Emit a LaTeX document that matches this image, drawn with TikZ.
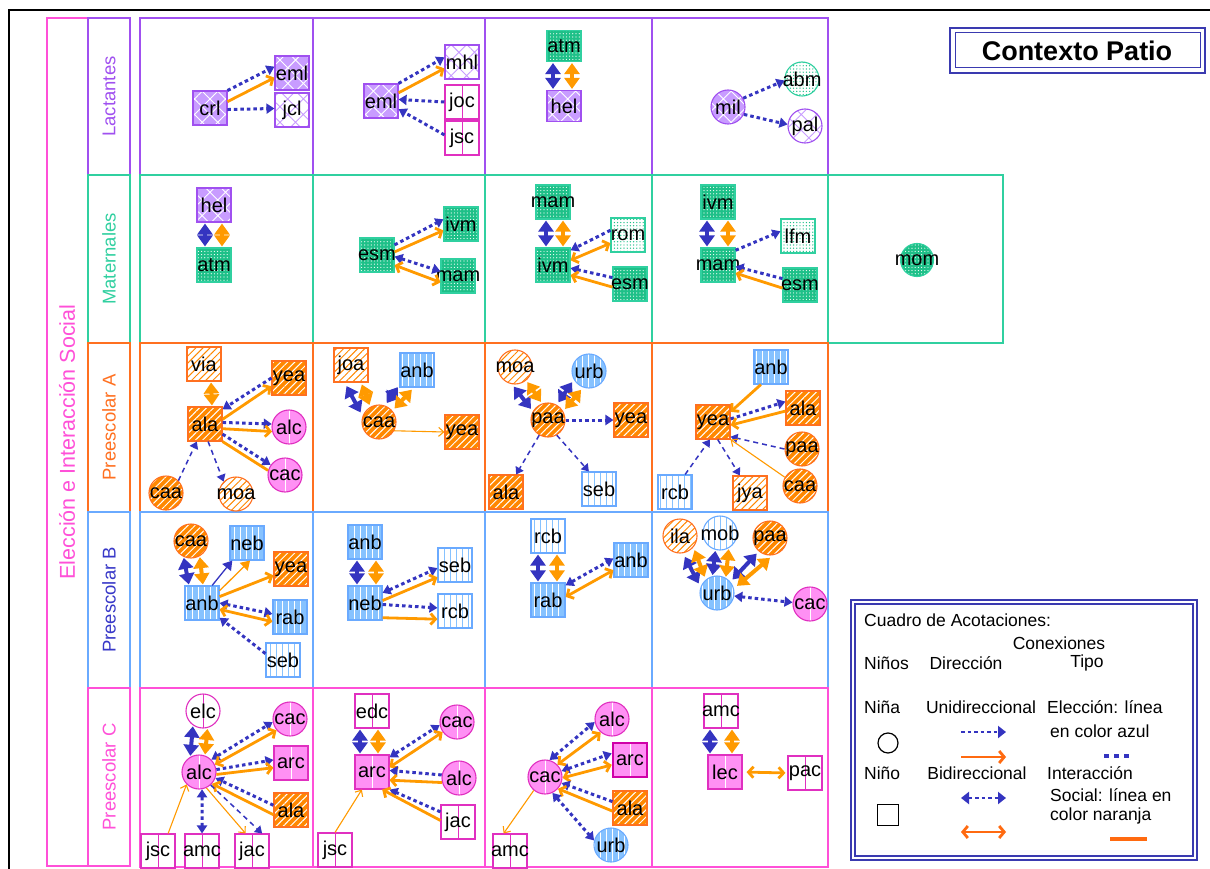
\documentclass[tikz,border=0pt]{standalone}
\usepackage{fontspec}
\setmainfont{Liberation Sans}
\usetikzlibrary{arrows.meta,patterns.meta}
\definecolor{purpB}{HTML}{A050F0}
\definecolor{purpF}{HTML}{C89CFF}
\definecolor{grnB}{HTML}{30D0A0}
\definecolor{grnF}{HTML}{1EC088}
\definecolor{orgB}{HTML}{FF7020}
\definecolor{orgF}{HTML}{FF8800}
\definecolor{bluB}{HTML}{6AAAFF}
\definecolor{bluF}{HTML}{86C2FF}
\definecolor{pnkB}{HTML}{E030C0}
\definecolor{pnkF}{HTML}{FF90F4}
\definecolor{pnkD}{HTML}{D000A8}
\definecolor{pnkR}{HTML}{FF50D8}
\definecolor{arrB}{HTML}{3434C0}
\definecolor{arrO}{HTML}{FF9A00}
\definecolor{legO}{HTML}{FF6A10}
\definecolor{navy}{HTML}{3A3AB0}
\definecolor{lblB}{HTML}{3838C8}
\newcommand\mk[1]{\makebox[0pt]{#1}}
\newcommand\nf{\fontsize{20}{20}\selectfont}
\newcommand\rf{\fontsize{18.5}{18.5}\selectfont}
\newcommand\lgf{\fontsize{17.5}{17.5}\selectfont}
\tikzset{
 nd/.style={minimum width=34pt,minimum height=34pt,inner sep=0pt,line width=1.1pt,font=\nf,text=black},
 sq/.style={nd,rectangle},
 ci/.style={nd,circle,minimum size=34pt},
 pL/.style={draw=purpB,preaction={fill=purpF},pattern={Hatch[angle=45,distance=11pt,line width=0.9pt]},pattern color=white},
 wL/.style={draw=purpB,preaction={fill=white},pattern={Hatch[angle=45,distance=11pt,line width=0.9pt]},pattern color=purpF},
 gM/.style={draw=grnB,preaction={fill=grnF},pattern={Dots[distance=3.2pt,radius=0.6pt]},pattern color=white},
 wM/.style={draw=grnB,preaction={fill=white},pattern={Dots[distance=3.2pt,radius=0.7pt]},pattern color=grnF},
 oA/.style={draw=orgB,preaction={fill=orgF},pattern={Lines[angle=45,distance=5pt,line width=1pt]},pattern color=white},
 wA/.style={draw=orgB,preaction={fill=white},pattern={Lines[angle=45,distance=5pt,line width=1pt]},pattern color=orgF},
 bB/.style={draw=bluB,preaction={fill=bluF},pattern={Lines[angle=90,distance=6pt,line width=1pt]},pattern color=white},
 wB/.style={draw=bluB,preaction={fill=white},pattern={Lines[angle=90,distance=6pt,line width=1pt]},pattern color=bluF},
 pC/.style={draw=pnkB,fill=pnkF,path picture={\draw[white,line width=1pt] (path picture bounding box.north)--(path picture bounding box.south);}},
 wC/.style={draw=pnkB,fill=white,path picture={\draw[pnkB,line width=1pt] (path picture bounding box.north)--(path picture bounding box.south);}},
 eC/.style={draw=arrB,line width=3pt,dash pattern=on 3.5pt off 3pt,-{Triangle[length=8pt,width=10pt]}},
 eCC/.style={eC,{Triangle[length=8pt,width=10pt]}-{Triangle[length=8pt,width=10pt]}},
 eI/.style={draw=arrO,line width=2.8pt,-{Straight Barb[length=5pt,width=11pt]}},
 eII/.style={eI,{Straight Barb[length=5pt,width=11pt]}-{Straight Barb[length=5pt,width=11pt]}},
 eL/.style={draw=arrO,line width=2.8pt},
 eTB/.style={draw=arrB,line width=1.5pt,dash pattern=on 5pt off 4pt,-{Triangle[length=7pt,width=9pt]}},
 eTO/.style={draw=arrO,line width=1.1pt,-{Straight Barb[length=5pt,width=9pt]}},
 eTBs/.style={draw=arrB,line width=1.3pt,-{Triangle[length=9pt,width=11pt]}},
 eTOs/.style={draw=arrO,line width=1.3pt,-{Triangle[length=9pt,width=11pt]}},
 mkB/.style={draw=arrB,line width=4pt,{Triangle[length=11pt,width=15pt]}-{Triangle[length=11pt,width=15pt]},shorten <=1pt,shorten >=1pt},
 mkO/.style={mkB,draw=arrO},
 lg/.style={font=\lgf,inner sep=0pt},
 rowlab/.style={rotate=90,font=\rf,inner sep=0pt},
}
\begin{document}
\begin{tikzpicture}[x=1pt,y=-1pt]
\useasboundingbox (0,0) rectangle (1210,869);
\fill[white] (0,0) rectangle (1210,869);
% outer frame
\draw[black,line width=1.2pt] (9,869) -- (9,10) -- (1210,10);
% left labels
\draw[pnkR,line width=1.5pt] (47,18) rectangle (130,866);
\node[rotate=90,font=\fontsize{21.5}{21.5}\selectfont,text=pnkR,inner sep=0pt] (mainlab) at (67,442) {Elección e Interacción Social};
\draw[purpB,line width=1.5pt] (88,18) rectangle (130,175);
\node[rowlab,text=purpB] (labL) at (109,96.5) {Lactantes};
\draw[grnB,line width=1.5pt] (88,175) rectangle (130,343);
\node[rowlab,text=grnB] (labM) at (109,259) {Maternales};
\draw[orgB,line width=1.5pt] (88,343) rectangle (130,512);
\node[rowlab,text=orgB] (labA) at (109,427.5) {Preescolar A};
\draw[bluB,line width=1.5pt] (88,512) rectangle (130,688);
\node[rowlab,text=lblB] (labB) at (109,600) {Preescolar B};
\draw[pnkR,line width=1.5pt] (88,688) rectangle (130,866);
\node[rowlab,text=pnkR] (labC) at (109,777) {Preescolar C};
% grid cells
\foreach \a/\b in {140/313,313/485,485/652,652/828} \draw[purpB,line width=1.5pt] (\a,18) rectangle (\b,175);
\foreach \a/\b in {140/313,313/485,485/652,652/828,828/1003} \draw[grnB,line width=1.5pt] (\a,175) rectangle (\b,343);
\foreach \a/\b in {140/313,313/485,485/652,652/828} \draw[orgB,line width=1.5pt] (\a,343) rectangle (\b,512);
\foreach \a/\b in {140/313,313/485,485/652,652/828} \draw[bluB,line width=1.5pt] (\a,512) rectangle (\b,688);
\foreach \a/\b in {140/313,313/485,485/652,652/828} \draw[pnkR,line width=1.5pt] (\a,688) rectangle (\b,867);
% title
\draw[navy,line width=2.5pt] (950,28) rectangle (1205,73);
\draw[navy,line width=1pt] (955,33) rectangle (1200,68);
\node[font=\bfseries\fontsize{27}{27}\selectfont,inner sep=0pt] (title) at (1077,51) {Contexto Patio};

% ===== Lactantes =====
\node[sq,pL] (L1crl) at (210,108) {\mk{crl}};
\node[sq,pL] (L1eml) at (292,73) {\mk{eml}};
\node[sq,wL] (L1jcl) at (292,110) {\mk{jcl}};
\draw[eC] (L1crl.north east) -- (L1eml.160);
\draw[eI] (L1crl.20) -- (L1eml.195);
\draw[eC] (L1crl.-5) -- (L1jcl.175);

\node[sq,pL] (L2eml) at (381,101) {\mk{eml}};
\node[sq,wL] (L2mhl) at (462,62) {\mk{mhl}};
\node[sq,wC] (L2joc) at (462,102) {\mk{joc}};
\node[sq,wC] (L2jsc) at (462,138) {\mk{jsc}};
\draw[eC] (L2eml.north east) -- (L2mhl.165);
\draw[eI] (L2eml.25) -- (L2mhl.200);
\draw[eC] (L2joc.west) -- (L2eml.5);
\draw[eC] (L2jsc.170) -- (L2eml.-25);

\node[sq,gM,minimum height=31pt] (L3atm) at (564,46) {\mk{atm}};
\node[sq,pL,minimum height=31pt] (L3hel) at (564,106) {\mk{hel}};
\draw[mkB] ([xshift=-11pt]L3atm.south) -- ([xshift=-11pt]L3hel.north);
\draw[mkO] ([xshift=8pt]L3atm.south) -- ([xshift=8pt]L3hel.north);

\node[ci,pL] (L4mil) at (728,107) {\mk{mil}};
\node[ci,wM] (L4abm) at (802,79) {\mk{abm}};
\node[ci,wL] (L4pal) at (805,126) {\mk{pal}};
\draw[eC] (L4mil.30) -- (L4abm.185);
\draw[eC] (L4mil.-25) -- (L4pal.175);

% ===== Maternales =====
\node[sq,pL] (M1hel) at (214,205) {\mk{hel}};
\node[sq,gM] (M1atm) at (214,265) {\mk{atm}};
\draw[mkB] ([xshift=-9pt]M1hel.south) -- ([xshift=-9pt]M1atm.north);
\draw[mkO] ([xshift=8pt]M1hel.south) -- ([xshift=8pt]M1atm.north);

\node[sq,gM] (M2esm) at (377,255) {\mk{esm}};
\node[sq,gM] (M2ivm) at (461,224) {\mk{ivm}};
\node[sq,gM] (M2mam) at (458,276) {\mk{mam}};
\draw[eC] (M2esm.30) -- (M2ivm.165);
\draw[eI] (M2esm.10) -- (M2ivm.200);
\draw[eCC] (M2esm.-5) -- (M2mam.165);
\draw[eII] (M2esm.-30) -- (M2mam.200);

\node[sq,gM] (M3mam) at (553,202) {\mk{mam}};
\node[sq,gM] (M3ivm) at (553,265) {\mk{ivm}};
\node[sq,wM] (M3rom) at (628,235) {\mk{rom}};
\node[sq,gM] (M3esm) at (630,284) {\mk{esm}};
\draw[mkB] ([xshift=-7pt]M3mam.south) -- ([xshift=-7pt]M3ivm.north);
\draw[mkO] ([xshift=10pt]M3mam.south) -- ([xshift=10pt]M3ivm.north);
\draw[eC] (M3rom.165) -- (M3ivm.40);
\draw[eII] (M3ivm.15) -- (M3rom.205);
\draw[eC] (M3esm.160) -- (M3ivm.-10);
\draw[eI] (M3esm.190) -- (M3ivm.-30);

\node[sq,gM] (M4ivm) at (718,202) {\mk{ivm}};
\node[sq,gM] (M4mam) at (718,265) {\mk{mam}};
\node[sq,wM] (M4lfm) at (798,236) {\mk{lfm}};
\node[sq,gM] (M4esm) at (800,285) {\mk{esm}};
\draw[mkB] ([xshift=-11pt]M4ivm.south) -- ([xshift=-11pt]M4mam.north);
\draw[mkO] ([xshift=10pt]M4ivm.south) -- ([xshift=10pt]M4mam.north);
\draw[eC] (M4mam.40) -- (M4lfm.165);
\draw[eC] (M4esm.160) -- (M4mam.-5);
\draw[eI] (M4esm.190) -- (M4mam.-25);

\node[ci,gM,minimum size=33pt] (M5mom) at (917,260) {\mk{mom}};

% ===== Preescolar A =====
\node[sq,wA] (A1via) at (204,364) {\mk{via}};
\node[sq,oA] (A1yea) at (289,378) {\mk{yea}};
\node[sq,oA] (A1ala) at (205,424) {\mk{ala}};
\node[ci,pC] (A1alc) at (289,427) {\mk{alc}};
\node[ci,pC] (A1cac) at (285,475) {\mk{cac}};
\node[ci,oA] (A1caa) at (166,493) {\mk{caa}};
\node[ci,wA] (A1moa) at (236,494) {\mk{moa}};
\draw[mkO] ([xshift=7pt]A1via.south) -- ([xshift=7pt]A1ala.north);
\draw[eC] (A1yea.west) -- (A1ala.40);
\draw[eI] (A1ala.15) -- (A1yea.205);
\draw[eC] (A1ala.5) -- (A1alc.170);
\draw[eI] (A1ala.-15) -- (A1alc.195);
\draw[eC] (A1ala.-30) -- (A1cac.145);
\draw[eL] (A1ala.-45) -- (A1cac.165);
\draw[eTB] (A1caa.north east) -- (A1ala.-115);
\draw[eTB] (A1ala.-80) -- (A1moa.north west);

\node[sq,wA] (A2joa) at (351,365) {\mk{joa}};
\node[sq,bB] (A2anb) at (417,370) {\mk{anb}};
\node[ci,oA] (A2caa) at (379,422) {\mk{caa}};
\node[sq,oA] (A2yea) at (462,432) {\mk{yea}};
\draw[mkB,shorten <=4pt,shorten >=4pt] (A2joa.-110) -- (A2caa.160);
\draw[mkO,shorten <=2pt,shorten >=2pt] (A2joa.-60) -- (A2caa.120);
\draw[mkB,shorten <=3pt,shorten >=3pt] (A2anb.-140) -- (A2caa.70);
\draw[mkO,shorten <=3pt,shorten >=3pt] (A2anb.-100) -- (A2caa.40);
\draw[eTO] (A2caa.-30) -- (A2yea.west);

\node[ci,wA] (A3moa) at (515,367) {\mk{moa}};
\node[ci,bB] (A3urb) at (589,371) {\mk{urb}};
\node[ci,oA] (A3paa) at (548,420) {\mk{paa}};
\node[sq,oA] (A3yea) at (631,420) {\mk{yea}};
\node[sq,oA] (A3ala) at (506,492) {\mk{ala}};
\node[sq,wB] (A3seb) at (599,489) {\mk{seb}};
\draw[mkB,shorten <=3pt,shorten >=3pt] (A3moa.-100) -- (A3paa.150);
\draw[mkO,shorten <=2pt,shorten >=2pt] (A3moa.-50) -- (A3paa.110);
\draw[mkB,shorten <=3pt,shorten >=3pt] (A3urb.-150) -- (A3paa.60);
\draw[mkO,shorten <=3pt,shorten >=3pt] (A3urb.-110) -- (A3paa.30);
\draw[eC] (A3paa.east) -- (A3yea.west);
\draw[eTB] (A3paa.-120) -- (A3ala.60);
\draw[eTB] (A3paa.-60) -- (A3seb.120);

\node[sq,bB] (A4anb) at (771,367) {\mk{anb}};
\node[sq,oA] (A4yea) at (713,422) {\mk{yea}};
\node[sq,oA] (A4ala) at (803,408) {\mk{ala}};
\node[ci,oA] (A4paa) at (802,449) {\mk{paa}};
\node[ci,oA] (A4caa) at (800,486) {\mk{caa}};
\node[sq,wB] (A4rcb) at (675,492) {\mk{rcb}};
\node[sq,wA] (A4jya) at (750,493) {\mk{jya}};
\draw[eI] (A4anb.-120) -- (A4yea.30);
\draw[eC] (A4yea.10) -- (A4ala.160);
\draw[eI] (A4ala.190) -- (A4yea.-10);
\draw[eTB] (A4paa.west) -- (A4yea.-40);
\draw[eTO] (A4caa.150) -- (A4yea.-45);
\draw[eTB] (A4rcb.60) -- (A4yea.-100);
\draw[eTB] (A4yea.-75) -- (A4jya.120);

% ===== Preescolar B =====
\node[ci,oA] (B1caa) at (191,541) {\mk{caa}};
\node[sq,bB] (B1neb) at (247,543) {\mk{neb}};
\node[sq,oA] (B1yea) at (291,569) {\mk{yea}};
\node[sq,bB] (B1anb) at (202,603) {\mk{anb}};
\node[sq,bB] (B1rab) at (290,617) {\mk{rab}};
\node[sq,wB] (B1seb) at (283,660) {\mk{seb}};
\draw[mkB] (B1caa.-115) -- ([xshift=-13pt]B1anb.north);
\draw[mkO] (B1caa.-60) -- ([xshift=1pt]B1anb.north);
\draw[eTBs] (B1anb.60) -- (B1neb.-130);
\draw[eTOs] (B1anb.35) -- (B1neb.-80);
\draw[eI] (B1anb.20) -- (B1yea.-160);
\draw[eCC] (B1anb.0) -- (B1rab.170);
\draw[eII] (B1anb.-20) -- (B1rab.-165);
\draw[eC] (B1seb.160) -- (B1anb.-40);

\node[sq,bB] (B2anb) at (365,542) {\mk{anb}};
\node[sq,bB] (B2neb) at (365,603) {\mk{neb}};
\node[sq,wB] (B2seb) at (455,565) {\mk{seb}};
\node[sq,wB] (B2rcb) at (455,611) {\mk{rcb}};
\draw[mkB] ([xshift=-8pt]B2anb.south) -- ([xshift=-8pt]B2neb.north);
\draw[mkO] ([xshift=11pt]B2anb.south) -- ([xshift=11pt]B2neb.north);
\draw[eCC] (B2neb.30) -- (B2seb.190);
\draw[eI] (B2neb.8) -- (B2seb.-145);
\draw[eC] (B2neb.-5) -- (B2rcb.170);
\draw[eI] (B2neb.-40) -- (B2rcb.-155);

\node[sq,wB] (B3rcb) at (548,536) {\mk{rcb}};
\node[sq,bB] (B3rab) at (548,600) {\mk{rab}};
\node[sq,bB] (B3anb) at (631,560) {\mk{anb}};
\draw[mkB] ([xshift=-10pt]B3rcb.south) -- ([xshift=-10pt]B3rab.north);
\draw[mkO] ([xshift=9pt]B3rcb.south) -- ([xshift=9pt]B3rab.north);
\draw[eCC] (B3rab.40) -- (B3anb.175);
\draw[eII] (B3rab.10) -- (B3anb.-150);

\node[ci,wA] (B4ila) at (680,536) {\mk{ila}};
\node[ci,wB] (B4mob) at (720,533) {\mk{mob}};
\node[ci,oA] (B4paa) at (770,538) {\mk{paa}};
\node[ci,bB] (B4urb) at (717,593) {\mk{urb}};
\node[ci,pC] (B4cac) at (810,604) {\mk{cac}};
\draw[mkB,shorten <=4pt,shorten >=4pt] (B4ila.-80) -- (B4urb.160);
\draw[mkO,shorten <=3pt,shorten >=3pt] (B4ila.-40) -- (B4urb.130);
\draw[mkB] (B4mob.-105) -- (B4urb.105);
\draw[mkO] (B4mob.-60) -- (B4urb.60);
\draw[mkB,shorten <=3pt,shorten >=3pt] (B4paa.-130) -- (B4urb.40);
\draw[mkO,shorten <=4pt,shorten >=4pt] (B4paa.-80) -- (B4urb.15);
\draw[eCC] (B4urb.-10) -- (B4cac.175);

% ===== Preescolar C =====
\node[ci,wC] (C1elc) at (203,711) {\mk{elc}};
\node[ci,pC] (C1cac) at (290,719) {\mk{cac}};
\node[ci,pC] (C1alc) at (199,772) {\mk{alc}};
\node[sq,pC] (C1arc) at (291,763) {\mk{arc}};
\node[sq,oA] (C1ala) at (291,810) {\mk{ala}};
\node[sq,wC] (C1jsc) at (158,851) {\mk{jsc}};
\node[sq,wC] (C1amc) at (202,851) {\mk{amc}};
\node[sq,wC] (C1jac) at (252,851) {\mk{jac}};
\draw[mkB] (C1elc.-125) -- (C1alc.120);
\draw[mkO] (C1elc.-75) -- (C1alc.70);
\draw[eCC] (C1alc.45) -- (C1cac.190);
\draw[eII] (C1alc.25) -- (C1cac.-140);
\draw[eC] (C1alc.8) -- (C1arc.170);
\draw[eI] (C1alc.-8) -- (C1arc.-165);
\draw[eC] (C1ala.165) -- (C1alc.-20);
\draw[eI] (C1ala.195) -- (C1alc.-42);
\draw[eTO] (C1jsc.60) -- (C1alc.-135);
\draw[eCC] (C1alc.-80) -- (C1amc.north);
\draw[eTO] (C1alc.-65) -- (C1jac.110);
\draw[eTB] (C1alc.-48) -- (C1jac.60);

\node[sq,wC] (C2edc) at (372,711) {\mk{edc}};
\node[ci,pC] (C2cac) at (457,722) {\mk{cac}};
\node[sq,pC] (C2arc) at (372,772) {\mk{arc}};
\node[ci,pC] (C2alc) at (459,778) {\mk{alc}};
\node[sq,wC] (C2jac) at (458,822) {\mk{jac}};
\node[sq,wC] (C2jsc) at (335,850) {\mk{jsc}};
\draw[mkB] ([xshift=-12pt]C2edc.south) -- ([xshift=-12pt]C2arc.north);
\draw[mkO] ([xshift=6pt]C2edc.south) -- ([xshift=6pt]C2arc.north);
\draw[eCC] (C2arc.40) -- (C2cac.190);
\draw[eII] (C2arc.15) -- (C2cac.-145);
\draw[eC] (C2alc.170) -- (C2arc.5);
\draw[eI] (C2alc.-165) -- (C2arc.-25);
\draw[eC] (C2jac.150) -- (C2arc.-45);
\draw[eI] (C2jac.175) -- (C2arc.-60);
\draw[eTO] (C2jsc.north) -- (C2arc.-120);

\node[ci,pC] (C3alc) at (612,719) {\mk{alc}};
\node[sq,pC,draw=pnkD,line width=2.5pt] (C3arc) at (630,760) {\mk{arc}};
\node[ci,pC] (C3cac) at (545,777) {\mk{cac}};
\node[sq,oA] (C3ala) at (630,808) {\mk{ala}};
\node[ci,bB] (C3urb) at (611,845) {\mk{urb}};
\node[sq,wC] (C3amc) at (510,851) {\mk{amc}};
\draw[eCC] (C3cac.75) -- (C3alc.-170);
\draw[eII] (C3cac.45) -- (C3alc.-130);
\draw[eCC] (C3cac.20) -- (C3arc.160);
\draw[eII] (C3cac.-3) -- (C3arc.-165);
\draw[eC] (C3ala.160) -- (C3cac.-20);
\draw[eI] (C3ala.-170) -- (C3cac.-42);
\draw[eCC] (C3cac.-65) -- (C3urb.165);
\draw[eTO] (C3cac.-130) -- (C3amc.110);

\node[sq,wC] (C4amc) at (721,711) {\mk{amc}};
\node[sq,pC] (C4lec) at (725,772) {\mk{lec}};
\node[sq,wC] (C4pac) at (805,773) {\mk{pac}};
\draw[mkB] ([xshift=-11pt]C4amc.south) -- ([xshift=-15pt]C4lec.north);
\draw[mkO] ([xshift=11pt]C4amc.south) -- ([xshift=7pt]C4lec.north);
\draw[eII,shorten <=4pt,shorten >=2pt] (C4lec.east) -- (C4pac.west);

% ===== Legend =====
\draw[navy,line width=1.4pt] (851,600) rectangle (1197,860);
\draw[navy,line width=1.2pt] (855,604) rectangle (1193,856);
\node[lg,anchor=west] (t1) at (864,620) {Cuadro de Acotaciones:};
\node[lg] (t2) at (1059,643) {Conexiones};
\node[lg,anchor=west] (t3) at (864,663) {Niños};
\node[lg] (t4) at (966,663) {Dirección};
\node[lg] (t5) at (1087,663) {Tipo};
\node[lg,anchor=west] (t6) at (864,707) {Niña};
\node[lg] (t7) at (981,707) {Unidireccional};
\node[lg,anchor=west] (t8) at (1047,707) {Elección: línea};
\node[lg,anchor=west] (t9) at (1050,731) {en color azul};
\node[lg,anchor=west] (t10) at (864,773) {Niño};
\node[lg] (t11) at (977,773) {Bidireccional};
\node[lg,anchor=west] (t12) at (1047,773) {Interacción};
\node[lg,anchor=west] (t13) at (1050,795) {Social: línea en};
\node[lg,anchor=west] (t14) at (1050,816) {color naranja};
\node[draw,circle,minimum size=20pt,inner sep=0pt,line width=1.2pt] (g1) at (888,743) {};
\node[draw,minimum size=21pt,inner sep=0pt,line width=1.2pt] (g2) at (888,815) {};
\coordinate (a1s) at (961,732); \coordinate (a1e) at (1006,732);
\coordinate (a2s) at (961,757); \coordinate (a2e) at (1006,757);
\coordinate (a3s) at (961,798); \coordinate (a3e) at (1006,798);
\coordinate (a4s) at (961,832); \coordinate (a4e) at (1006,832);
\coordinate (a5s) at (1104,756); \coordinate (a5e) at (1133,756);
\coordinate (a6s) at (1110,839); \coordinate (a6e) at (1147,839);
\draw[draw=arrB,line width=2.8pt,dash pattern=on 3.5pt off 3pt,-{Triangle[length=8pt,width=12pt]}] (a1s) -- (a1e);
\draw[draw=legO,line width=2.8pt,-{Straight Barb[length=5pt,width=12pt]}] (a2s) -- (a2e);
\draw[draw=arrB,line width=2.8pt,dash pattern=on 3.5pt off 3pt,{Triangle[length=8pt,width=12pt]}-{Triangle[length=8pt,width=12pt]}] (a3s) -- (a3e);
\draw[draw=legO,line width=2.8pt,{Straight Barb[length=5pt,width=12pt]}-{Straight Barb[length=5pt,width=12pt]}] (a4s) -- (a4e);
\draw[draw=arrB,line width=4pt,dash pattern=on 5pt off 5pt] (a5s) -- (a5e);
\draw[draw=legO,line width=4.5pt] (a6s) -- (a6e);
\end{tikzpicture}
\end{document}
